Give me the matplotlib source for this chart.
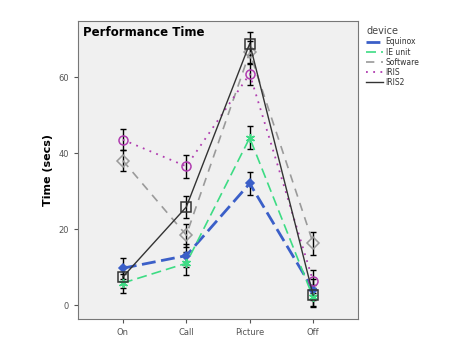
import numpy as np
import matplotlib.pyplot as plt

tasks = ["On", "Call", "Picture", "Off"]
devices = ["Equinox", "IE unit", "Software", "IRIS", "IRIS2"]

equinox = [9.7, 13.0, 32.0, 4.0]
ie_unit = [5.8, 11.0, 44.0, 2.0]
software = [38.0, 18.4, 66.5, 16.3]
iris = [43.5, 36.5, 60.8, 6.3]
iris2 = [7.4, 25.8, 68.8, 2.6]

equinox_err = [2.8, 3.0, 3.0, 2.8]
ie_unit_err = [2.5, 3.0, 3.0, 2.5]
software_err = [2.8, 3.0, 3.0, 3.0]
iris_err = [2.7, 3.0, 3.0, 3.0]
iris2_err = [2.8, 3.0, 3.0, 2.8]

series = [equinox, ie_unit, software, iris, iris2]
errors = [equinox_err, ie_unit_err, software_err, iris_err, iris2_err]
colors = ["#3b5fc8", "#3ddc84", "#9a9a9a", "#b03cb0", "#333333"]
styles = [(0, (5, 2)), (0, (6, 3)), (0, (5, 4)), (0, (1, 3)), "-"]
widths = [2.0, 1.2, 1.2, 1.3, 1.0]
markers = ["D", (6, 2, 0), "D", "o", "s"]
msizes = [4, 6.5, 6, 6.5, 6.5]

fig = plt.figure(figsize=(4.58, 3.53), dpi=100)
ax = fig.add_axes([0.170, 0.096, 0.612, 0.844])
ax.set_facecolor("#f0f0f0")

x = np.arange(len(tasks))
for vals, err, c, ls, lw, m, ms, name in zip(series, errors, colors, styles, widths, markers, msizes, devices):
    ax.errorbar(x, vals, yerr=err, fmt="none", ecolor="black", elinewidth=1.0,
                capsize=2.5, capthick=1.0, zorder=3)
    filled = name == "Equinox"
    ax.plot(x, vals, color=c, linestyle=ls, linewidth=lw, marker=m,
            markersize=ms, markerfacecolor=c if filled else "none",
            markeredgecolor=c, markeredgewidth=1.1, zorder=4, label=name)

ax.set_xlim(-0.71, 3.71)
ax.set_ylim(-3.7, 74.7)
ax.set_xticks(x)
ax.set_xticklabels(tasks)
ax.set_yticks([0, 20, 40, 60])
ax.tick_params(labelsize=6, colors="#555555", length=3)
for sp in ax.spines.values():
    sp.set_color("#777777")
ax.set_ylabel("Time (secs)", fontsize=8, fontweight="bold", labelpad=4)
ax.text(0.02, 0.985, "Performance Time", transform=ax.transAxes, fontsize=8.5,
        fontweight="bold", va="top", ha="left")

# legend shows line styles only
leg_lines = [plt.Line2D([0], [0], color=c, linestyle=ls, linewidth=lw)
             for c, ls, lw in zip(colors, styles, widths)]
leg = fig.legend(leg_lines, devices, loc="upper left", bbox_to_anchor=(0.785, 0.945),
                 frameon=False, fontsize=5.5, title="device", title_fontsize=7,
                 handlelength=2.2, handletextpad=0.3, labelspacing=0.15,
                 alignment="left")
leg.get_title().set_color("#444444")
for t in leg.get_texts():
    t.set_color("#333333")

fig.savefig("out.png", dpi=100)
